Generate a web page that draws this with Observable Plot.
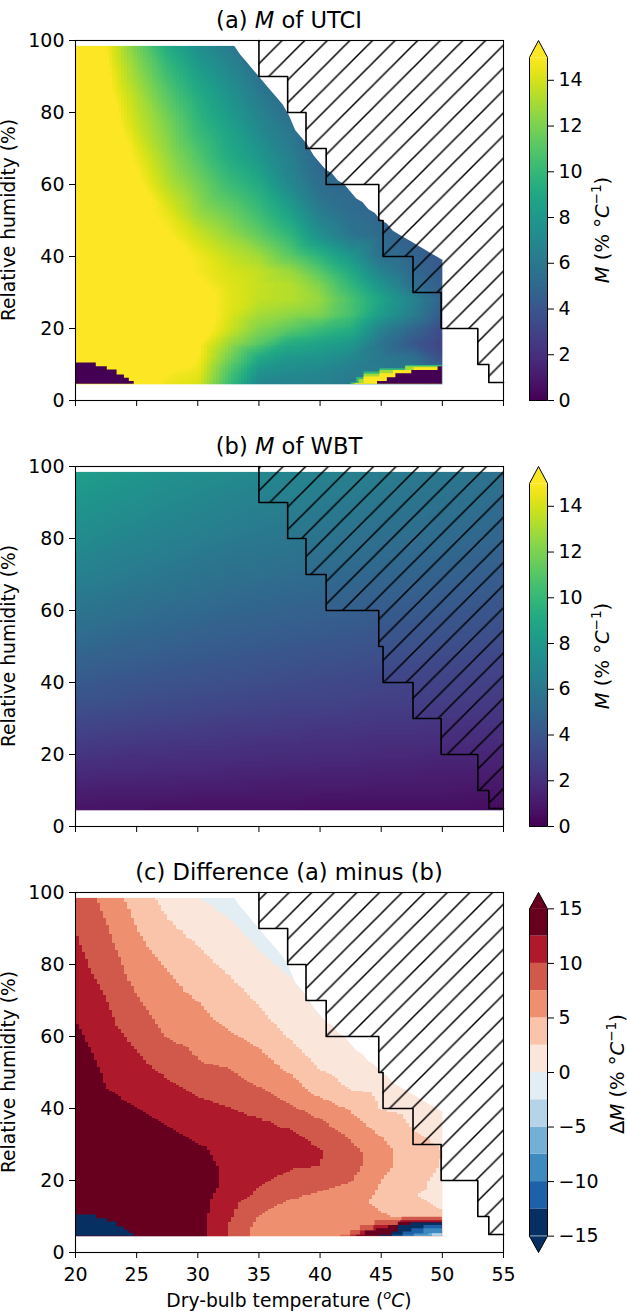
<!DOCTYPE html>
<html><head><meta charset="utf-8">
<script src="https://cdn.jsdelivr.net/npm/d3@7"></script>
<script src="https://cdn.jsdelivr.net/npm/@observablehq/plot@0.6"></script>
<style>
html,body{margin:0;padding:0;background:#fff}
.panel{position:relative;width:627px}
.panel svg{display:block;position:absolute;top:0;overflow:visible;background:transparent}
</style></head><body><div id="root"></div>
<script>
const FONT = "DejaVu Sans";
const xTicks = [20,25,30,35,40,45,50,55];
const yTicks = [0,20,40,60,80,100];
const temps = [20,22.5,25,27.5,30,32.5,35,37.5,40,42.5,45,47.5,50,52.5,55];
const humidities = [4.5,8,12,16,20,24,28,32,36,40,46,52,60,68,76,84,92,98.5];

// M of WBT, one row per humidity, one value per temperature
const wbtRows = [
[0.7,0.7,0.7,0.6,0.6,0.6,0.6,0.6,0.5,0.5,0.5,0.5,0.5,0.5,0.4],
[1.1,1.0,1.0,1.0,0.9,0.9,0.9,0.9,0.8,0.8,0.8,0.8,0.8,0.7,0.7],
[1.5,1.4,1.4,1.4,1.3,1.3,1.2,1.2,1.2,1.2,1.1,1.1,1.1,1.0,1.0],
[1.9,1.8,1.8,1.7,1.7,1.6,1.6,1.5,1.5,1.5,1.4,1.4,1.3,1.3,1.3],
[2.3,2.2,2.1,2.1,2.0,2.0,1.9,1.9,1.8,1.8,1.7,1.7,1.6,1.6,1.5],
[2.7,2.6,2.5,2.4,2.4,2.3,2.2,2.2,2.1,2.1,2.0,2.0,1.9,1.9,1.8],
[3.1,3.0,2.9,2.8,2.7,2.6,2.6,2.5,2.4,2.4,2.3,2.3,2.2,2.1,2.1],
[3.5,3.4,3.3,3.2,3.1,3.0,2.9,2.8,2.8,2.7,2.6,2.6,2.5,2.4,2.3],
[3.9,3.8,3.6,3.5,3.4,3.3,3.2,3.1,3.1,3.0,2.9,2.8,2.8,2.7,2.6],
[4.2,4.0,3.9,3.8,3.7,3.6,3.5,3.4,3.3,3.2,3.1,3.0,3.0,2.9,2.8],
[4.7,4.5,4.4,4.2,4.1,4.0,3.9,3.8,3.7,3.6,3.5,3.4,3.3,3.2,3.1],
[5.2,5.0,4.8,4.7,4.5,4.4,4.3,4.2,4.1,4.0,3.9,3.8,3.7,3.6,3.5],
[5.8,5.6,5.4,5.2,5.1,4.9,4.8,4.7,4.6,4.5,4.3,4.2,4.1,4.0,3.9],
[6.4,6.2,6.0,5.8,5.6,5.4,5.3,5.2,5.1,4.9,4.8,4.7,4.5,4.4,4.3],
[7.0,6.7,6.5,6.3,6.1,5.9,5.8,5.7,5.5,5.4,5.2,5.1,5.0,4.8,4.7],
[7.5,7.2,7.0,6.8,6.6,6.4,6.2,6.1,5.9,5.8,5.6,5.5,5.3,5.2,5.0],
[8.0,7.7,7.5,7.2,7.0,6.8,6.6,6.5,6.3,6.2,6.0,5.8,5.7,5.5,5.3],
[8.4,8.1,7.9,7.6,7.4,7.2,7.0,6.8,6.6,6.5,6.3,6.1,6.0,5.8,5.6]];

// M of UTCI, one column per temperature (20 to 50), humidity ascending
const utciColumns = [
[17.7,18.1,18.5,18.9,19.3,19.7,20.1,20.5,20.4,20.2,19.7,19.2,18.8,18.4,18.2,18,17.7,17.5],
[16.7,17,17.4,17.8,18.2,18.6,19,18.4,18,17.5,17,16.9,16.7,16.5,16.1,15.6,15.2,14.9],
[16.2,16.5,16.9,17.3,17.6,18,18.4,17.8,17.1,16.4,15.9,15.4,15.3,14.6,13.8,13.3,12.5,11.8],
[14.6,15,15.7,16.2,16.6,16.9,17,16.4,15.8,15.4,15.1,14.5,13.4,12.7,12.1,11.2,10.2,9.2],
[14.1,14.5,15,15.2,15.7,15.9,15.7,15.2,14.8,14.7,13.8,12.7,11.9,10.9,10,9.3,8.3,7.4],
[10.4,11,12,12.9,14,14.3,14.4,14.3,14.1,13.7,12.7,11.7,10.3,9.2,8.6,7.8,7,6.2],
[6.8,7.7,9.1,11.2,12.2,13,13.6,13.7,13.6,12.9,11.4,10.3,9.1,7.9,7,6.2,5.4,5],
[6.6,7.2,8,9.3,11.3,12.5,13.3,13.3,12.7,11.3,9.9,8.6,7,6.4,5.8,5.1,4.5,3.8],
[6.5,6.9,7.7,8.7,10.3,12.1,12.6,12.1,11,9.7,7.4,6.3,5.3,4.8,4.5,3.9,3.3,3.6],
[6,6.3,7,8.1,9.4,10.6,10.7,9.9,9,7.9,5.8,5.3,5,4.9,5.4,5.8,6.2,6.5],
[6,6.3,6,5.8,6.7,8.3,8.7,7.7,6.6,5.5,5.1,4.9,4.8,4.8,4.8,4.8,4.8,4.8],
[6,6.3,5.5,4.1,5,6.5,6.8,5.5,5,4.8,4.4,4.3,4.2,4.2,4.2,4.2,4.2,4.2],
[5.5,5.8,3.5,3,3.4,4.2,4.75,4.5,4.2,4,3.8,3.7,3.7,3.7,3.7,3.7,3.7,3.7]];

// difference (a) minus (b), one column per temperature (20 to 50), humidity ascending
const diffColumns = [
[17,17,17,17,17,17,17,17,16.5,16,15,14,13,12,11.2,10.5,9.7,9.1],
[16,16,16,16,16,16,16,15,14.2,13.5,12.5,11.9,11.1,10.3,9.4,8.4,7.5,6.8],
[15.5,15.5,15.5,15.5,15.5,15.5,15.5,14.5,13.5,12.5,11.5,10.6,9.4,8,6.8,5.8,4.7,3.9],
[14,14,14.3,14.5,14.5,14.5,14.2,13.2,12.3,11.6,10.5,9.2,7.4,6.4,5.4,4,2.7,1.6],
[13.5,13.6,13.7,13.7,13.7,13.5,13,12.1,11.4,10.7,9.4,7.8,6.5,5.3,3.9,2.7,1.3,0],
[9.8,10.1,10.7,11.3,12,12,11.8,11.3,10.8,10.1,8.7,7.3,5.4,3.8,2.7,1.4,0.2,-1],
[6.2,6.8,7.9,9.6,10.3,10.8,11,10.8,10.4,9.4,7.5,6,4.3,2.6,1.2,0,-1.2,-2],
[6,6.3,6.8,7.8,9.4,10.3,10.8,10.5,9.6,7.9,6.1,4.4,2.3,1.2,0.1,-1,-2,-3],
[6,6.1,6.5,7.2,8.5,10,10.2,9.3,7.9,6.4,3.7,2.2,0.7,-0.3,-1,-2,-3,-3],
[5.5,5.5,5.8,6.6,7.6,8.5,8.3,7.2,6,4.7,2.2,1.3,0.5,0,0,0,0,0],
[5.5,5.5,4.9,4.4,5,5.7,6,5.1,3.7,2.4,1.6,1,0.5,0,0,0,0,0],
[5.5,5.5,4.4,2.7,3.3,4,3.8,2.9,2.2,1.8,1,0.5,0,0,0,0,0,0],
[5,5,2.4,1.7,1.8,2.3,2.55,2,1.4,1,0.5,0,0,0,0,0,0,0]];

// upper edge of the UTCI data
const edgeT  = [33,33.5,34,34.5,35,35.5,36,36.5,37,37.5,38,38.5,39,39.5,40,40.5,41,41.5,42,42.5,43,43.5,44,44.5,45,45.5,46,46.5,47,47.5,48,48.5,49,49.5,50,50.5];
const edgeRH = [98.5,96,94,92,90,88,86,84,82,79,75,73,71,68,66,64,63,61,60,58,56,55,53,52,50,49,47,46,45,44,43,42,41,40,39,39];

// boundary of the hatched region
const stairT  = [35,35,37.35,38.85,40.5,44.8,45.15,47.6,49.9,52.9,53.8,55];
const stairRH = [100,90,80,70,60,50,40,30,20,10,5,5];

// low-humidity corner, bottom left
const cornerT  = [20,21.7,22.6,23.4,24,24.4,24.8];
const cornerRH = [10.4,9.4,8.5,7.1,6.2,5.3,5.3];

// low-humidity wedge, bottom right, panel (a)
const wedgeA = [
  {value:10,   T:[42.5,43,43.6,44.9,47,50],       RH:[4.9,6.4,7.9,8.8,9.7,10.2]},
  {value:13,   T:[42.7,43.2,43.6,44.9,47,50],     RH:[4.7,5.8,7.3,8.3,9.4,9.9]},
  {value:15,   T:[42.9,43.6,44.9,46,47.7,49.7],   RH:[4.7,6.5,7.4,8.3,9.1,9.3]},
  {value:0,    T:[44.7,45.5,46.2,47.5,49.65,50],  RH:[5.3,6.3,7.4,8.3,9.4,9.4]}
];
// low-humidity wedge, bottom right, panel (c)
const wedgeC = [
  {value:8.75,  T:[41.7,42.5,43.3,44.5,46.7,50], RH:[4.8,6.1,7.5,8.9,9.8,9.8]},
  {value:11,    T:[42.5,43.3,44.4,46.6,50],      RH:[4.8,6,7.5,8.9,9.1]},
  {value:14,    T:[43,43.7,44.6,45.6,46.4,50],   RH:[4.8,6,6.6,7.5,8.4,9.1]},
  {value:-14,   T:[44.8,45.9,46.4,47.4,50],      RH:[4.8,5.7,7.5,8.2,8.9]},
  {value:-11,   T:[45.9,46.8,47.5,48.5,50],      RH:[4.8,5.7,6.6,7.5,8]},
  {value:-8.75, T:[46.8,47.7,48.5,50],           RH:[4.8,5.2,6.6,7.2]},
  {value:-6,    T:[47.7,48.9,50],                RH:[4.8,5.2,6.6]},
  {value:-3.5,  T:[49.2,50],                     RH:[5.2,5.2]}
];

const diffLevels = [-15,-12.5,-10,-7.5,-5,-2.5,0,2.5,5,7.5,10,12.5,15];
const diffColors = ["#053061","#1d62a8","#3d8bbf","#72b0d5","#b5d4e7","#e3edf4","#fbe6dc","#f9c4a9","#ee9070","#d1594b","#ae1a2b","#67001f"];
const contTicks = [0,2,4,6,8,10,12,14];
const diffTicks = [-15,-10,-5,0,5,10,15];

const zip = (T, RH) => T.map((t, i) => ({T: t, RH: RH[i]}));
const fromColumns = cols => cols.flatMap((col, i) => col.map((v, j) => ({T: temps[i], RH: humidities[j], v})));
const wbtPoints = humidities.flatMap((rh, j) => temps.map((t, i) => ({T: t, RH: rh, v: wbtRows[j][i]})));
const diffPoints = fromColumns(diffColumns);
const utciPoints = fromColumns(utciColumns);
const edge = zip(edgeT, edgeRH);
const stair = zip(stairT, stairRH);
const corner = zip(cornerT, cornerRH);

const contColor = {type: "linear", scheme: "viridis", domain: [0, 15], clamp: true};
const diffColor = {type: "threshold", domain: diffLevels.slice(1, -1), range: diffColors};

function fieldRaster(points, x2) {
  return Plot.raster(points, {x: "T", y: "RH", fill: "v", x1: 20, x2, y1: 4.5, y2: 98.5,
    width: (x2 - 20) * 4, height: 188, interpolate: "barycentric", imageRendering: "pixelated"});
}
function step(pts, value) {
  return Plot.areaY(pts, {x: "T", y1: 4.5, y2: "RH", fill: () => value, curve: "step-after"});
}
function wedge(list) {
  return list.map(w => step(zip(w.T, w.RH), w.value));
}

function rich(svg, {x, y, rotate = 0, size = 18.7, parts}) {
  const t = d3.select(svg).append("text")
    .attr("transform", `translate(${x},${y}) rotate(${rotate})`)
    .attr("text-anchor", "middle").attr("fill", "black")
    .style("font-family", FONT).style("font-size", size + "px");
  let pending = 0;
  for (const [s, kind] of parts) {
    const sp = t.append("tspan").text(s);
    if (kind && kind.includes("i")) sp.attr("font-style", "italic");
    if (kind && kind.includes("^")) {
      sp.attr("font-size", size * 0.7 + "px").attr("dy", (-0.42 * size - pending) + "px");
      pending = -0.42 * size;
    } else if (pending) {
      sp.attr("dy", -pending + "px");
      pending = 0;
    }
  }
}

function addHatch(svg, id, px) {
  const P = 22.6;
  const p = d3.select(svg).insert("defs", ":first-child").append("pattern")
    .attr("id", id).attr("patternUnits", "userSpaceOnUse")
    .attr("width", P).attr("height", P).attr("x", px).attr("y", 0);
  p.append("path").attr("d", `M-2,${P+2}L${P+2},-2M-2,2L2,-2M${P-2},${P+2}L${P+2},${P-2}`)
    .attr("stroke", "black").attr("stroke-width", 1.5).attr("fill", "none");
}

const baseStyle = {fontFamily: FONT, fontSize: "19px", color: "black", background: "transparent", overflow: "visible"};

function panel({key, height, title, field, color, under, showX, hatchX, cbar, cbarLabel, cbarLabelX, cbarLabelY}) {
  const div = d3.select("#root").append("div").attr("class", "panel").style("height", height + "px").node();
  const id = "hatch-" + key;
  const svg = Plot.plot({
    width: 627, height,
    marginLeft: 75, marginRight: 124, marginTop: 40, marginBottom: height - 400,
    style: baseStyle,
    x: {domain: [20, 55], label: null},
    y: {domain: [0, 100], label: null},
    color,
    marks: [
      field,
      ...under,
      Plot.areaY(stair, {x: "T", y1: "RH", y2: 100, fill: `url(#${id})`, curve: "step-after"}),
      Plot.line(stair, {x: "T", y: "RH", stroke: "black", strokeWidth: 1.6, curve: "step-after"}),
      Plot.frame({stroke: "black", strokeWidth: 1.1}),
      Plot.axisX({ticks: xTicks, tickSize: 6, tickPadding: 9, label: null,
        tickFormat: showX ? (d => String(d)) : (() => "")}),
      Plot.axisY({ticks: yTicks, tickSize: 6, tickPadding: 5, label: null})
    ]
  });
  addHatch(svg, id, hatchX);
  rich(svg, {x: 289, y: 28, size: 22.6, parts: title});
  rich(svg, {x: 15, y: 220, rotate: -90, parts: [["Relative humidity (%)"]]});
  if (showX) rich(svg, {x: 289, y: 454.5, parts: [["Dry-bulb temperature ("], ["o", "i^"], ["C", "i"], [")"]]});
  div.appendChild(svg);

  const bar = cbar();
  bar.style.left = "510px";
  d3.select(bar).style("width", "117px");
  rich(bar, {x: cbarLabelX, y: cbarLabelY, rotate: -90, size: 19.5, parts: cbarLabel});
  div.appendChild(bar);
  return svg;
}

function contBar() {
  const topV = 15.74;
  const outline = [{x:0,y:0},{x:1,y:0},{x:1,y:15},{x:0.5,y:topV},{x:0,y:15},{x:0,y:0}];
  return Plot.plot({
    width: 117, height: 426, marginLeft: 19, marginRight: 80, marginTop: 40, marginBottom: 26,
    style: baseStyle,
    x: {domain: [0, 1], axis: null},
    y: {domain: [0, topV], label: null},
    color: contColor,
    marks: [
      Plot.raster({x1: 0, x2: 1, y1: 0, y2: 15, width: 1, height: 340, fill: (x, y) => y}),
      Plot.line(outline.slice(2, 5), {x: "x", y: "y", fill: "#fde725", stroke: "none"}),
      Plot.line(outline, {x: "x", y: "y", stroke: "black", strokeWidth: 1}),
      Plot.axisY({anchor: "right", ticks: contTicks, tickSize: 6, tickPadding: 5, label: null})
    ]
  });
}

function diffBar() {
  const top = 16.5;
  const bands = diffColors.map((c, i) => ({y1: diffLevels[i], y2: diffLevels[i + 1], mid: (diffLevels[i] + diffLevels[i + 1]) / 2}));
  const outline = [{x:0,y:-15},{x:0.5,y:-top},{x:1,y:-15},{x:1,y:15},{x:0.5,y:top},{x:0,y:15},{x:0,y:-15}];
  return Plot.plot({
    width: 117, height: 459, marginLeft: 19, marginRight: 80, marginTop: 40, marginBottom: 59,
    style: baseStyle,
    x: {domain: [0, 1], axis: null},
    y: {domain: [-top, top], label: null},
    color: diffColor,
    marks: [
      Plot.rect(bands, {x1: 0, x2: 1, y1: "y1", y2: "y2", fill: "mid"}),
      Plot.line(outline.slice(0, 3), {x: "x", y: "y", fill: diffColors[0], stroke: "none"}),
      Plot.line(outline.slice(3, 6), {x: "x", y: "y", fill: diffColors[11], stroke: "none"}),
      Plot.line(outline, {x: "x", y: "y", stroke: "black", strokeWidth: 1}),
      Plot.axisY({anchor: "right", ticks: diffTicks, tickSize: 6, tickPadding: 5, label: null})
    ]
  });
}

const maskMarks = [
  Plot.areaY(edge, {x: "T", y1: "RH", y2: 99, fill: "white"})
];
const mLabel = [["M", "i"], [" (% °"], ["C", "i"], ["−1", "^"], [")"]];

panel({key: "a", height: 426, title: [["(a) "], ["M", "i"], [" of UTCI"]],
  field: fieldRaster(utciPoints, 50), color: contColor,
  under: [step(corner, 0), ...wedge(wedgeA), ...maskMarks], showX: false, hatchX: 6.2,
  cbar: contBar, cbarLabel: mLabel, cbarLabelX: 99, cbarLabelY: 230});
panel({key: "b", height: 426, title: [["(b) "], ["M", "i"], [" of WBT"]],
  field: fieldRaster(wbtPoints, 55), color: contColor,
  under: [], showX: false, hatchX: 7.2,
  cbar: contBar, cbarLabel: mLabel, cbarLabelX: 99, cbarLabelY: 230});
panel({key: "c", height: 459, title: [["(c) Difference (a) minus (b)"]],
  field: fieldRaster(diffPoints, 50), color: diffColor,
  under: [step(corner, -14), ...wedge(wedgeC), ...maskMarks], showX: true, hatchX: 13.2,
  cbar: diffBar, cbarLabel: [["Δ", ""], ["M", "i"], [" (% °"], ["C", "i"], ["−1", "^"], [")"]], cbarLabelX: 114, cbarLabelY: 222});
</script></body></html>
